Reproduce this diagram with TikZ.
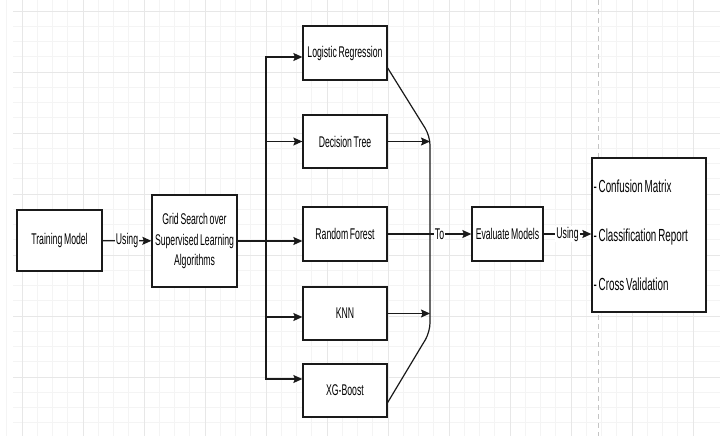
\documentclass[tikz,border=0pt]{standalone}
\usepackage{fontspec}
\setmainfont{Liberation Sans}[FakeStretch=0.56, WordSpace=0.7]
\usetikzlibrary{arrows.meta,calc}
\definecolor{gridminor}{HTML}{F4F4F4}
\definecolor{gridmajor}{HTML}{E7E7E7}
\definecolor{pagebreak}{HTML}{C4C4C4}
\definecolor{ink}{HTML}{1A1A1A}
\begin{document}
\begin{tikzpicture}[x=1pt,y=-1pt,
  box/.style={draw=ink, line width=1.3pt, fill=white, inner sep=2pt, align=center,
    font=\fontsize{15.5}{20.5}\selectfont},
  conn/.style={draw=ink, line width=1.2pt},
  arr/.style={conn, -{Stealth[length=9pt,width=8pt,inset=1.5pt]}},
  lbl/.style={fill=white, inner sep=1pt, font=\fontsize{15.5}{17}\selectfont},
]
\useasboundingbox (0,0) rectangle (720,436);
\fill[white] (0,0) rectangle (720,436);

% background grid
\foreach \k in {0,...,27}
  \draw[gridminor, line width=0.6pt] (13,11+15.25*\k) -- (720,11+15.25*\k);
\foreach \k in {0,...,45}
  \draw[gridminor, line width=0.6pt] (693-15.25*\k,0) -- (693-15.25*\k,436);
\foreach \k in {0,...,7}
  \draw[gridmajor, line width=0.7pt] (13,11+61*\k) -- (720,11+61*\k);
\foreach \k in {-1,...,11}
  \draw[gridmajor, line width=0.7pt] (693-61*\k,0) -- (693-61*\k,436);
\draw[pagebreak, line width=0.8pt, dash pattern=on 5pt off 4pt] (598,0) -- (598,436);

% boxes
\node[box, minimum width=85pt, minimum height=61pt] (train) at (59.5,240.5) {Training Model};
\node[box, minimum width=85pt, minimum height=92pt] (grid) at (194.5,241)
  {Grid Search over\\Supervised Learning\\Algorithms};
\node[box, minimum width=84pt, minimum height=54pt] (lr)  at (345,53)    {Logistic Regression};
\node[box, minimum width=84pt, minimum height=53pt] (dt)  at (345,141.5) {Decision Tree};
\node[box, minimum width=84pt, minimum height=54pt] (rf)  at (345,234)   {Random Forest};
\node[box, minimum width=84pt, minimum height=53pt] (knn) at (345,313.5) {KNN};
\node[box, minimum width=84pt, minimum height=53pt] (xgb) at (345,390.5) {XG-Boost};
\node[box, minimum width=71pt, minimum height=54pt] (eval) at (507.5,234) {Evaluate Models};
\node[box, minimum width=114pt, minimum height=154pt] (metrics) at (649,235) {};
\node[anchor=west, inner sep=0pt, align=left, font=\fontsize{17.5}{49}\selectfont]
  (metricslist) at ([xshift=2pt]metrics.west)
  {- Confusion Matrix\\- Classification Report\\- Cross Validation};

% fan-out from the grid search
\coordinate (trunk) at (266,241);
\draw[arr] (train) -- node[lbl] {Using} (grid);
\draw[arr] (grid.east) -- (trunk) |- ([yshift=-4pt]lr.west);
\draw[arr] (grid.east) -- (trunk) |- (dt.west);
\draw[arr] (grid.east) -- (grid.east -| rf.west);
\draw[arr] (grid.east) -- (trunk) |- ([yshift=-3.5pt]knn.west);
\draw[arr] (grid.east) -- (trunk) |- ([yshift=11.5pt]xgb.west);

% fan-in towards evaluation
\coordinate (mtop) at (430,136);
\coordinate (mbot) at (430,332);
\draw[conn, rounded corners=9pt] ([yshift=-15pt]lr.east) -- (mtop) -- (mbot) -- ([yshift=-12pt]xgb.east);
\draw[arr] (dt.east) -- (dt.east -| mtop);
\draw[arr] (knn.east) -- (knn.east -| mtop);
\draw[arr] (rf.east) -- node[lbl, pos=0.62] {To} (eval.west);
\draw[arr] (eval.east) -- node[lbl] {Using} (metrics.west |- eval.east);
\end{tikzpicture}
\end{document}
